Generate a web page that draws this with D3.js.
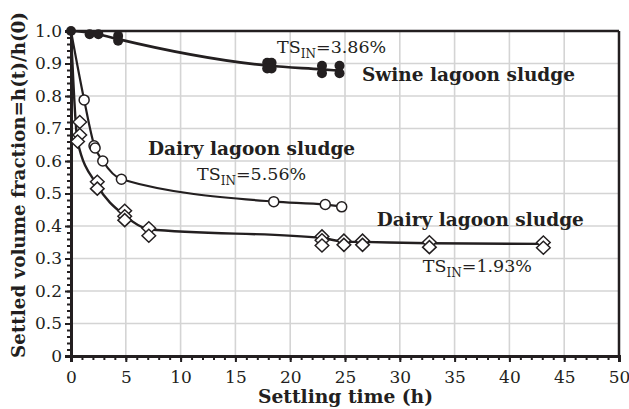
<!DOCTYPE html>
<html>
<head>
<meta charset="utf-8">
<script src="https://cdn.jsdelivr.net/npm/d3@7"></script>
<style>
  body { margin: 0; background: #fff; }
  text { font-family: "DejaVu Serif", serif; fill: #231f20; }
</style>
</head>
<body>
<div id="chart"></div>
<script>
// tick labels as printed on the original (note the "0.5" at 0.1)
var xTicks = [0, 5, 10, 15, 20, 25, 30, 35, 40, 45, 50];
var yTicks = [0, 0.1, 0.2, 0.3, 0.4, 0.5, 0.6, 0.7, 0.8, 0.9, 1.0];
var yTickLabels = ["0", "0.5", "0.2", "0.3", "0.4", "0.5", "0.6", "0.7", "0.8", "0.9", "1.0"];

// swine lagoon sludge, TS 3.86% (filled circles)
var swineT = [0, 1.7, 2.5, 4.3, 4.3, 17.9, 18.3, 17.9, 18.3, 22.9, 22.9, 24.5, 24.5];
var swineV = [1.0, 0.99, 0.99, 0.985, 0.97, 0.902, 0.902, 0.885, 0.885, 0.893, 0.87, 0.893, 0.87];
var swineLineT = [0, 1.7, 2.5, 4.3, 18.1, 22.9, 24.5];
var swineLineV = [1.0, 0.995, 0.99, 0.975, 0.893, 0.882, 0.878];

// dairy lagoon sludge, TS 5.56% (open circles)
var dairyAT = [1.2, 2.1, 2.2, 2.9, 4.6, 18.5, 23.2, 24.7];
var dairyAV = [0.788, 0.647, 0.64, 0.60, 0.544, 0.475, 0.466, 0.459];
var dairyALineT = [0, 1.2, 2.15, 2.9, 4.6, 18.5, 23.2, 24.7];
var dairyALineV = [1.0, 0.788, 0.645, 0.60, 0.544, 0.475, 0.466, 0.46];

// dairy lagoon sludge, TS 1.93% (open diamonds)
var dairyBT = [0.8, 0.8, 0.6, 2.4, 2.4, 4.9, 4.9, 4.9, 7.1, 7.1, 22.9, 22.9, 22.9, 24.9, 24.9, 26.6, 26.6, 32.7, 32.7, 43.1, 43.1];
var dairyBV = [0.72, 0.68, 0.66, 0.536, 0.515, 0.447, 0.43, 0.418, 0.393, 0.37, 0.368, 0.356, 0.34, 0.355, 0.342, 0.355, 0.342, 0.35, 0.335, 0.349, 0.333];
var dairyBLineT = [0, 0.6, 2.4, 4.9, 7.1, 22.9, 24.9, 26.6, 32.7, 43.1];
var dairyBLineV = [1.0, 0.66, 0.525, 0.432, 0.39, 0.363, 0.352, 0.351, 0.347, 0.345];

// annotations (data units)
var labelText = ["Swine lagoon sludge", "Dairy lagoon sludge", "Dairy lagoon sludge"];
var labelT = [26.55, 7.03, 27.9];
var labelV = [0.846, 0.618, 0.40];
var tsValue = ["=3.86%", "=5.56%", "=1.93%"];
var tsT = [18.8, 11.5, 32.1];
var tsV = [0.932, 0.542, 0.258];

var margin = {top: 31, right: 10, bottom: 53, left: 71},
    width = 629 - margin.left - margin.right,
    height = 409 - margin.top - margin.bottom;

var svg = d3.select("#chart")
  .append("svg")
    .attr("width", 629)
    .attr("height", 409)
  .append("g")
    .attr("transform", "translate(" + margin.left + "," + margin.top + ")");

var x = d3.scaleLinear().domain([0, 50]).range([0, width]);
var y = d3.scaleLinear().domain([0, 1]).range([height, 0]);

// grid
svg.append("g")
  .selectAll("line.vg")
  .data(xTicks.slice(1, -1))
  .enter().append("line")
    .attr("x1", function(d) { return x(d); })
    .attr("x2", function(d) { return x(d); })
    .attr("y1", 0).attr("y2", height)
    .style("stroke", "#d4d4d4").style("stroke-width", 1.6);
svg.append("g")
  .selectAll("line.hg")
  .data(yTicks.slice(1, -1))
  .enter().append("line")
    .attr("x1", 0).attr("x2", width)
    .attr("y1", function(d) { return y(d); })
    .attr("y2", function(d) { return y(d); })
    .style("stroke", "#d4d4d4").style("stroke-width", 1.6);

// frame top / right
svg.append("line").attr("x1", 0).attr("x2", width).attr("y1", 0).attr("y2", 0)
  .style("stroke", "#231f20").style("stroke-width", 2.5);
svg.append("line").attr("x1", width).attr("x2", width).attr("y1", 0).attr("y2", height)
  .style("stroke", "#231f20").style("stroke-width", 2.5);

// minor ticks
var xMinor = svg.append("g")
  .attr("transform", "translate(0," + height + ")")
  .call(d3.axisBottom(x).tickValues(d3.range(0, 51, 1)).tickSize(4).tickFormat(""));
var yMinor = svg.append("g")
  .call(d3.axisLeft(y).tickValues(d3.range(0, 51, 1).map(function(d) { return d / 50; })).tickSize(4).tickFormat(""));

// major axes
var xAxis = svg.append("g")
  .attr("transform", "translate(0," + height + ")")
  .call(d3.axisBottom(x).tickValues(xTicks).tickSize(6).tickPadding(9));
var yAxis = svg.append("g")
  .call(d3.axisLeft(y).tickValues(yTicks).tickSize(6).tickPadding(3)
    .tickFormat(function(d) { return yTickLabels[Math.round(d * 10)]; }));

[xMinor, yMinor, xAxis, yAxis].forEach(function(a) {
  a.select(".domain").style("stroke", "#231f20").style("stroke-width", 3);
  a.selectAll(".tick line").style("stroke", "#231f20").style("stroke-width", 2);
  a.selectAll(".tick text").style("font-family", "DejaVu Serif").style("font-size", "17px").style("fill", "#231f20");
});

// lines
var line = d3.line()
  .x(function(d) { return x(d[0]); })
  .y(function(d) { return y(d[1]); })
  .curve(d3.curveMonotoneX);

function drawLine(ts, vs, w) {
  svg.append("path")
    .datum(d3.zip(ts, vs))
    .attr("d", line)
    .style("fill", "none")
    .style("stroke", "#231f20")
    .style("stroke-width", w);
}
drawLine(dairyBLineT, dairyBLineV, 2.4);
drawLine(dairyALineT, dairyALineV, 2.2);
drawLine(swineLineT, swineLineV, 2.6);

// markers
var diamond = "M0,-6.5L6.8,0L0,6.5L-6.8,0Z";
svg.append("g").selectAll("path")
  .data(d3.zip(dairyBT, dairyBV))
  .enter().append("path")
    .attr("d", diamond)
    .attr("transform", function(d) { return "translate(" + x(d[0]) + "," + y(d[1]) + ")"; })
    .style("fill", "#fff").style("stroke", "#231f20").style("stroke-width", 1.5);

svg.append("g").selectAll("circle")
  .data(d3.zip(dairyAT, dairyAV))
  .enter().append("circle")
    .attr("cx", function(d) { return x(d[0]); })
    .attr("cy", function(d) { return y(d[1]); })
    .attr("r", 5)
    .style("fill", "#fff").style("stroke", "#231f20").style("stroke-width", 1.5);

svg.append("g").selectAll("circle")
  .data(d3.zip(swineT, swineV))
  .enter().append("circle")
    .attr("cx", function(d) { return x(d[0]); })
    .attr("cy", function(d) { return y(d[1]); })
    .attr("r", 5)
    .style("fill", "#231f20");

// annotations
labelText.forEach(function(t, i) {
  svg.append("text")
    .attr("x", x(labelT[i]))
    .attr("y", y(labelV[i]))
    .style("font-size", "18.5px")
    .style("font-weight", "bold")
    .text(t);
});
tsValue.forEach(function(t, i) {
  var tx = svg.append("text")
    .attr("x", x(tsT[i]))
    .attr("y", y(tsV[i]))
    .style("font-size", "17.5px");
  tx.append("tspan").text("TS");
  tx.append("tspan").attr("dy", 5).style("font-size", "12px").text("IN");
  tx.append("tspan").attr("dy", -5).text(t);
});

// axis titles
svg.append("text")
  .attr("x", width / 2 + 0.5)
  .attr("y", height + 47)
  .attr("text-anchor", "middle")
  .attr("textLength", 175)
  .attr("lengthAdjust", "spacingAndGlyphs")
  .style("font-size", "18px")
  .style("font-weight", "bold")
  .text("Settling time (h)");

svg.append("text")
  .attr("transform", "translate(" + (-46) + "," + 154 + ") rotate(-90)")
  .attr("text-anchor", "middle")
  .attr("textLength", 346)
  .attr("lengthAdjust", "spacingAndGlyphs")
  .style("font-size", "18px")
  .style("font-weight", "bold")
  .text("Settled volume fraction=h(t)/h(0)");
</script>
</body>
</html>
